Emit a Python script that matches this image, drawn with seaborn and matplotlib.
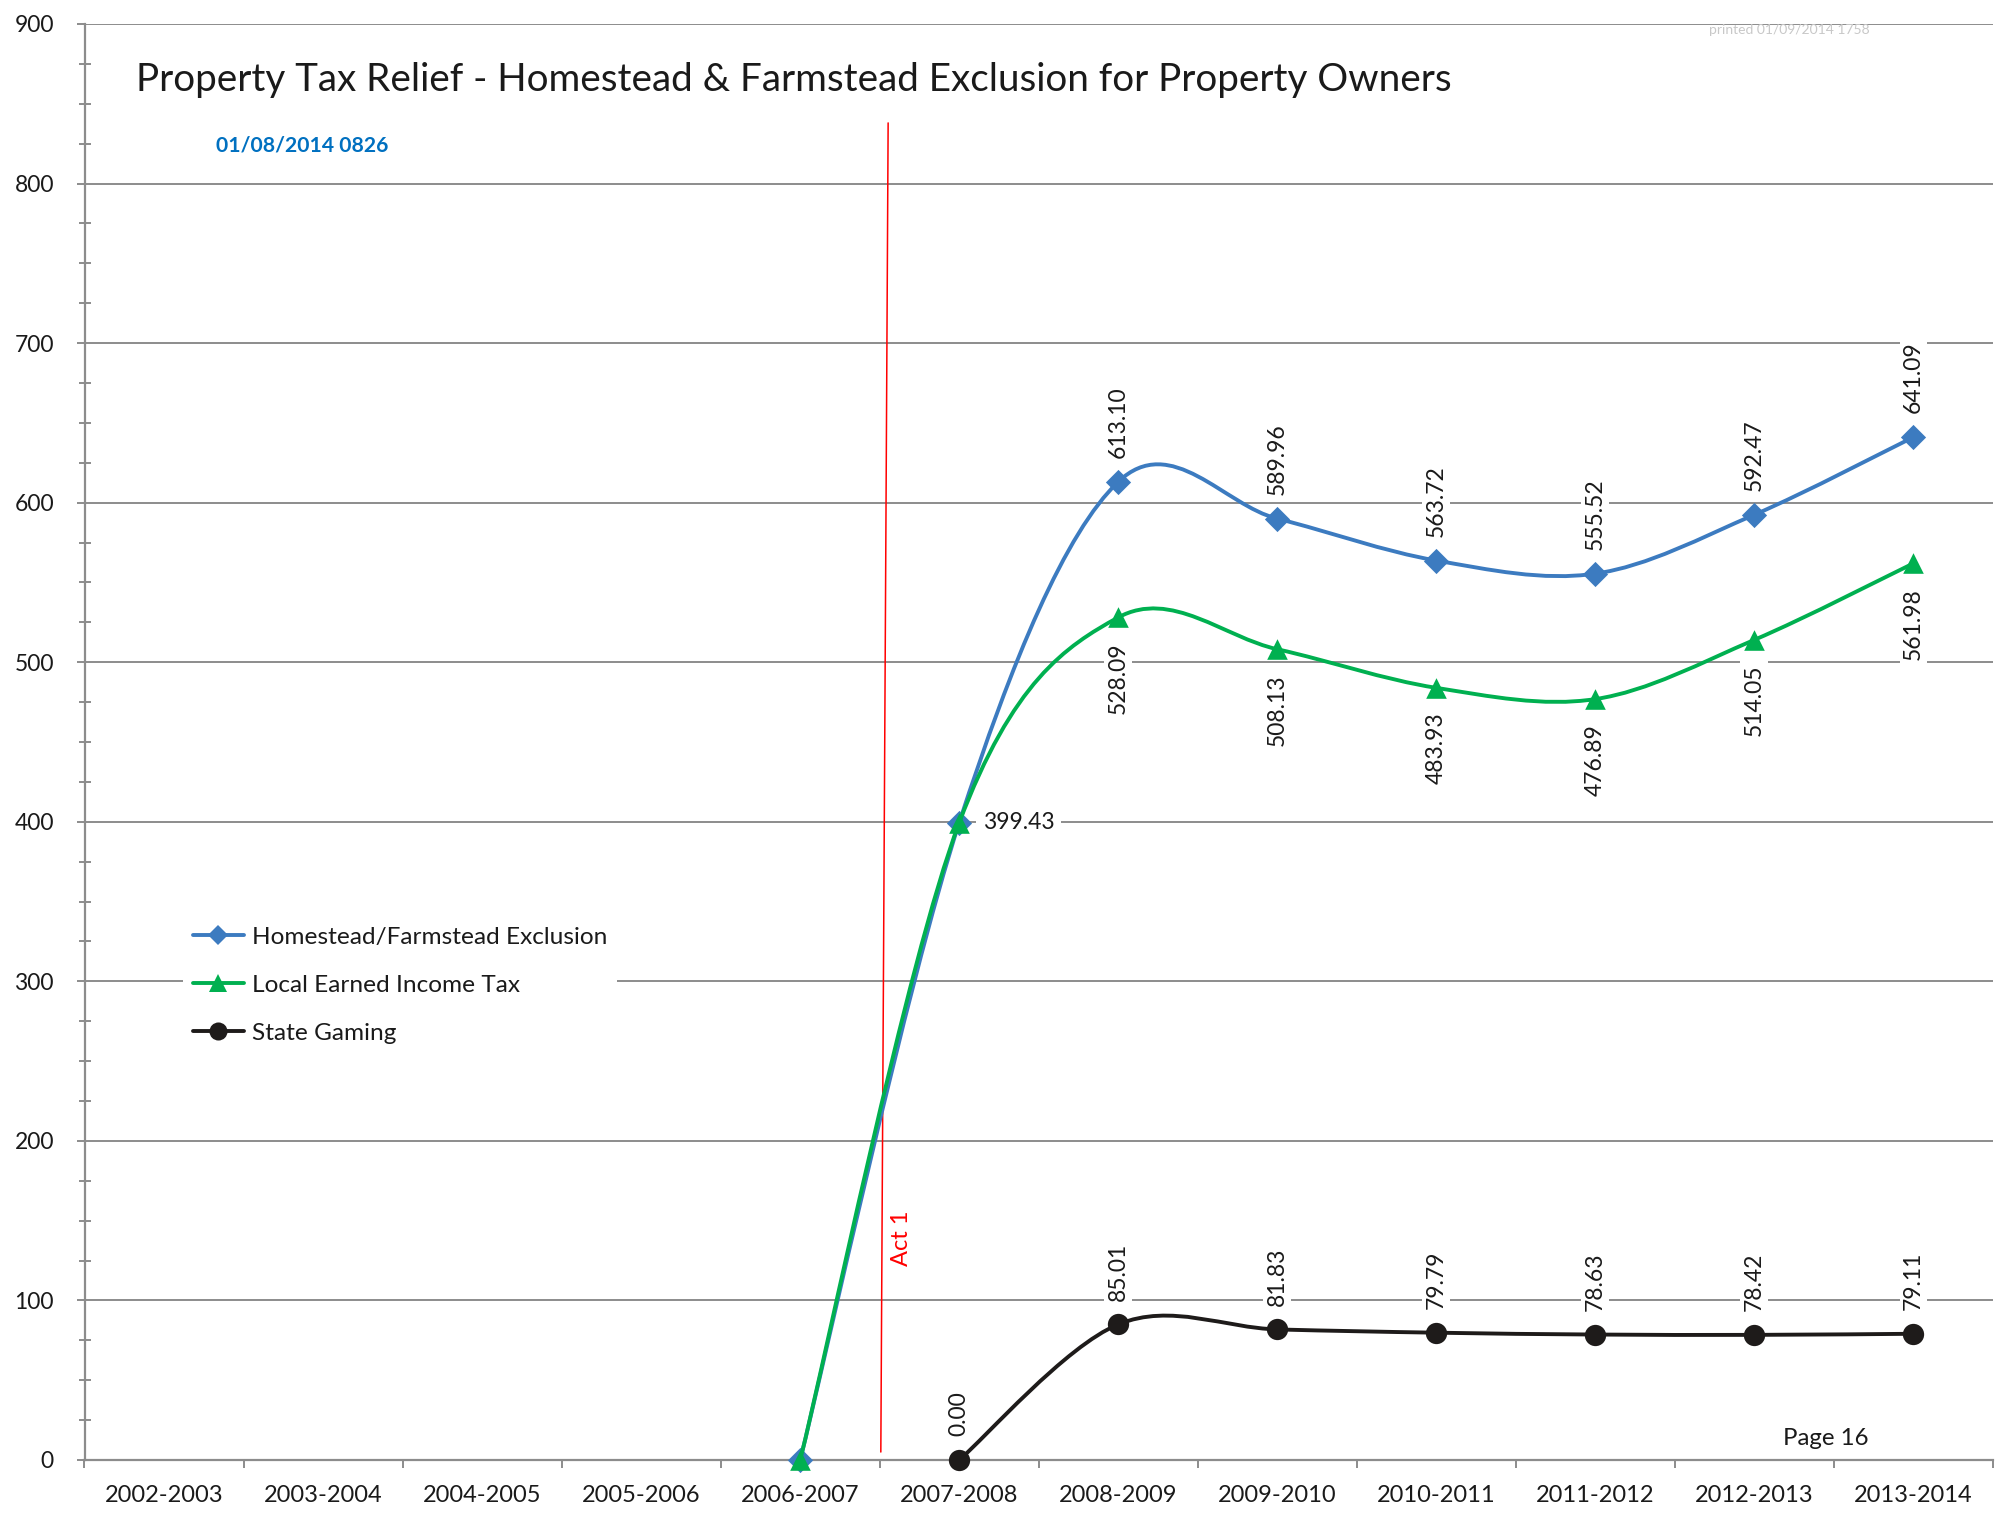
import numpy as np
import matplotlib
matplotlib.use("Agg")
import matplotlib.pyplot as plt
from matplotlib.path import Path
from matplotlib.patches import PathPatch
from matplotlib.lines import Line2D
from matplotlib.ticker import MultipleLocator, FixedLocator
import seaborn as sns

# ---------------- data ----------------
years = ["2002-2003", "2003-2004", "2004-2005", "2005-2006", "2006-2007", "2007-2008",
         "2008-2009", "2009-2010", "2010-2011", "2011-2012", "2012-2013", "2013-2014"]
homestead_years = ["2006-2007", "2007-2008", "2008-2009", "2009-2010", "2010-2011",
                   "2011-2012", "2012-2013", "2013-2014"]
homestead = [0.00, 399.43, 613.10, 589.96, 563.72, 555.52, 592.47, 641.09]
eit_years = homestead_years
eit = [0.00, 399.43, 528.09, 508.13, 483.93, 476.89, 514.05, 561.98]
gaming_years = ["2007-2008", "2008-2009", "2009-2010", "2010-2011", "2011-2012",
                "2012-2013", "2013-2014"]
gaming = [0.00, 85.01, 81.83, 79.79, 78.63, 78.42, 79.11]

series_names = ["Homestead/Farmstead Exclusion", "Local Earned Income Tax", "State Gaming"]
title = "Property Tax Relief - Homestead & Farmstead Exclusion for Property Owners"
date_note = "01/08/2014 0826"
printed_note = "printed 01/09/2014 1758"
act_label = "Act 1"
page_label = "Page 16"

BLUE = "#3C7BC0"
GREEN = "#00B050"
BLACK = "#1E1B1A"
GRID = "#8C8C8C"
LW = 2.8

sns.set_theme(style="white")
plt.rcParams['font.family'] = ['Lato', 'DejaVu Sans']

fig = plt.figure(figsize=(20.07, 15.19), dpi=100)
ax = fig.add_axes([84.5 / 2007, 59 / 1519, (1993 - 84.5) / 2007, (1460 - 24) / 1519])

pos = {y: i for i, y in enumerate(years)}


def smooth_path(xs, ys):
    pts = np.column_stack([xs, ys]).astype(float)
    n = len(pts)
    verts = [pts[0]]
    codes = [Path.MOVETO]
    for i in range(n - 1):
        p0 = pts[max(i - 1, 0)]
        p1 = pts[i]
        p2 = pts[i + 1]
        p3 = pts[min(i + 2, n - 1)]
        c1 = p1 + (p2 - p0) / 6.0
        c2 = p2 - (p3 - p1) / 6.0
        verts += [c1, c2, p2]
        codes += [Path.CURVE4] * 3
    return Path(verts, codes)


specs = [
    (homestead_years, homestead, BLUE, "D", 165),
    (eit_years, eit, GREEN, "^", 220),
    (gaming_years, gaming, BLACK, "o", 235),
]
for z, (yrs, vals, col, mk, sz) in enumerate(specs):
    xs = [pos[y] for y in yrs]
    patch = PathPatch(smooth_path(xs, vals), fill=False, edgecolor=col, lw=LW,
                      zorder=3 + z, capstyle='round', joinstyle='round')
    ax.add_patch(patch)
    sns.scatterplot(x=xs, y=vals, marker=mk, color=col, s=sz, edgecolor=col,
                    linewidth=0, ax=ax, zorder=3.5 + z, legend=False, clip_on=False)

lab_kw = dict(fontsize=16.5, color="#1a1a1a", rotation=90, ha="center",
              textcoords="offset points",
              bbox=dict(boxstyle="square,pad=0.15", fc="white", ec="none"), zorder=2.5)

# Homestead labels (above)
for y, v in zip(homestead_years, homestead):
    if y in ("2006-2007", "2007-2008"):
        continue
    ax.annotate(f"{v:.2f}", (pos[y], v), xytext=(0, 17), va="bottom", **lab_kw)
# EIT labels (below)
for y, v in zip(eit_years, eit):
    if y in ("2006-2007",):
        continue
    if y == "2007-2008":
        ax.annotate(f"{v:.2f}", (pos[y], v), xytext=(17, 0), textcoords="offset points",
                    fontsize=16.5, color="#1a1a1a", ha="left", va="center",
                    bbox=dict(boxstyle="square,pad=0.3", fc="white", ec="none"), zorder=2.5)
        continue
    ax.annotate(f"{v:.2f}", (pos[y], v), xytext=(0, -18), va="top", **lab_kw)
# Gaming labels (above)
for y, v in zip(gaming_years, gaming):
    ax.annotate(f"{v:.2f}", (pos[y], v), xytext=(0, 17), va="bottom", **lab_kw)

# Act 1 line
ax.plot([4.507, 4.553], [5, 838], color="#FF0000", lw=1.1, zorder=2.8)
ax.text(4.64, 139, act_label, rotation=90, color="#FF0000", fontsize=17,
        ha="center", va="center")
ax.text(10.45, 13.5, page_label, fontsize=17.3, color="#1a1a1a", ha="center", va="center")

# axes
ax.set_xlim(-0.5, 11.5)
ax.set_ylim(0, 900)
ax.yaxis.set_major_locator(MultipleLocator(100))
ax.yaxis.set_minor_locator(MultipleLocator(25))
ax.xaxis.set_major_locator(FixedLocator(range(len(years))))
ax.set_xticklabels(years)
ax.xaxis.set_minor_locator(FixedLocator(np.arange(-0.5, 12, 1.0)))
ax.tick_params(axis="x", which="major", length=0, pad=18, labelsize=17, labelcolor="#1a1a1a")
ax.tick_params(axis="x", which="minor", length=6, width=1.4, color=GRID, direction="out", bottom=True)
ax.tick_params(axis="y", which="major", length=6, width=1.4, color=GRID, direction="out",
               pad=16, labelsize=16.5, labelcolor="#1a1a1a", left=True)
ax.tick_params(axis="y", which="minor", length=9, width=1.4, color=GRID, direction="inout", left=True)
ax.grid(axis="y", which="major", color=GRID, lw=1.4)
ax.set_axisbelow(True)
for s in ["top", "right"]:
    ax.spines[s].set_visible(False)
for s in ["left", "bottom"]:
    ax.spines[s].set_color(GRID)
    ax.spines[s].set_linewidth(1.6)
ax.set_xlabel("")
ax.set_ylabel("")

# legend
handles = [
    Line2D([], [], color=BLUE, lw=LW, marker="D", markersize=10, markeredgewidth=0),
    Line2D([], [], color=GREEN, lw=LW, marker="^", markersize=13, markeredgewidth=0),
    Line2D([], [], color=BLACK, lw=LW, marker="o", markersize=13, markeredgewidth=0),
]
leg = ax.legend(handles, series_names, loc="upper left",
                bbox_to_anchor=(183 / 2007, 1 - 917 / 1519), bbox_transform=fig.transFigure,
                frameon=True, fancybox=False, framealpha=1, facecolor="white", edgecolor="none",
                fontsize=17.6, handlelength=2.1, handletextpad=0.33, labelspacing=1.1,
                borderpad=0.4, borderaxespad=0)
for t in leg.get_texts():
    t.set_color("#1a1a1a")
leg.set_zorder(10)

fig.text(135.7 / 2007, 1 - 80.5 / 1519, title, fontsize=27.8, color="#1a1a1a", ha="left", va="center")
fig.text(216 / 2007, 1 - 145 / 1519, date_note, fontsize=15.2, color="#0070C0",
         fontweight="bold", ha="left", va="center")
fig.text(1709 / 2007, 1 - 29.5 / 1519, printed_note, fontsize=10, color="#C8C8C8",
         ha="left", va="center")

fig.savefig("out.png", dpi=100, facecolor="white")
